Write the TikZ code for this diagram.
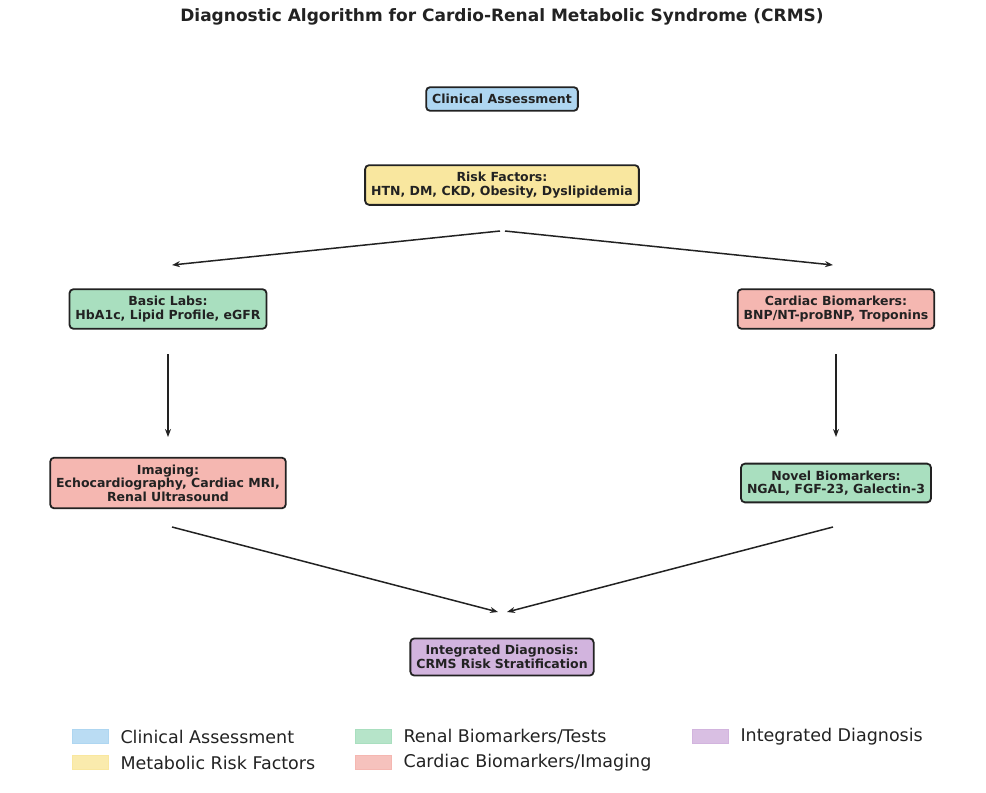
\documentclass[tikz,border=0pt]{standalone}
\usepackage{fontspec}
\setmainfont{DejaVu Sans}
\usetikzlibrary{arrows.meta,positioning}
\definecolor{clin}{HTML}{AED6F1}
\definecolor{risk}{HTML}{F9E79F}
\definecolor{renal}{HTML}{A9DFBF}
\definecolor{card}{HTML}{F5B7B1}
\definecolor{integ}{HTML}{D2B4DE}
\definecolor{ink}{HTML}{222222}
\tikzset{
  box/.style={draw=ink,line width=1.8pt,rounded corners=4pt,align=center,
    font=\fontsize{12.5}{13.5}\selectfont\bfseries,text=ink,inner xsep=6pt,inner ysep=7pt},
  flow/.style={-{Stealth[length=8pt,width=6pt]},line width=1.5pt,ink},
  patch/.style={minimum width=36pt,minimum height=14pt,inner sep=0pt,draw=#1,fill=#1!85},
  legtext/.style={font=\fontsize{17.5}{20}\selectfont,anchor=west,text=ink}
}
\begin{document}
\begin{tikzpicture}[x=1pt,y=-1pt]
\useasboundingbox (0,0) rectangle (986,793);
\node[font=\fontsize{17}{20}\selectfont\bfseries,text=ink] (title) at (502,17) {Diagnostic Algorithm for Cardio-Renal Metabolic Syndrome (CRMS)};
% boxes
\node[box,fill=clin]  (clinic) at (502,99)  {Clinical Assessment};
\node[box,fill=risk]  (risk)   at (502,185) {Risk Factors:\\HTN, DM, CKD, Obesity, Dyslipidemia};
\node[box,fill=renal] (labs)   at (168,309) {Basic Labs:\\HbA1c, Lipid Profile, eGFR};
\node[box,fill=card]  (cbio)   at (836,309) {Cardiac Biomarkers:\\BNP/NT-proBNP, Troponins};
\node[box,fill=card]  (imag)   at (168,483) {Imaging:\\Echocardiography, Cardiac MRI,\\Renal Ultrasound};
\node[box,fill=renal] (novel)  at (836,483) {Novel Biomarkers:\\NGAL, FGF-23, Galectin-3};
\node[box,fill=integ] (diag)   at (502,657) {Integrated Diagnosis:\\CRMS Risk Stratification};
% arrow ends
\coordinate (rl) at (500,231); \coordinate (rr) at (505,231);
\coordinate (lt) at (172,265); \coordinate (ct) at (833,265);
\coordinate (lb) at (168,354); \coordinate (it) at (168,437);
\coordinate (cb) at (836,354); \coordinate (nt) at (836,437);
\coordinate (ib) at (172,527); \coordinate (nb) at (833,527);
\coordinate (dl) at (498,612); \coordinate (dr) at (507,612);
\draw[flow] (rl) -- (lt);
\draw[flow] (rr) -- (ct);
\draw[flow] (lb) -- (it);
\draw[flow] (cb) -- (nt);
\draw[flow] (ib) -- (dl);
\draw[flow] (nb) -- (dr);
% legend
\node[patch=clin]  (p1) at (90,736) {};  \node[legtext] at (117,737) {Clinical Assessment};
\node[patch=risk]  (p2) at (90,762) {};  \node[legtext] at (117,763) {Metabolic Risk Factors};
\node[patch=renal] (p3) at (373,736) {}; \node[legtext] at (400,737) {Renal Biomarkers/Tests};
\node[patch=card]  (p4) at (373,762) {}; \node[legtext] at (400,763) {Cardiac Biomarkers/Imaging};
\node[patch=integ] (p5) at (710,736) {}; \node[legtext] at (737,737) {Integrated Diagnosis};
\end{tikzpicture}
\end{document}
